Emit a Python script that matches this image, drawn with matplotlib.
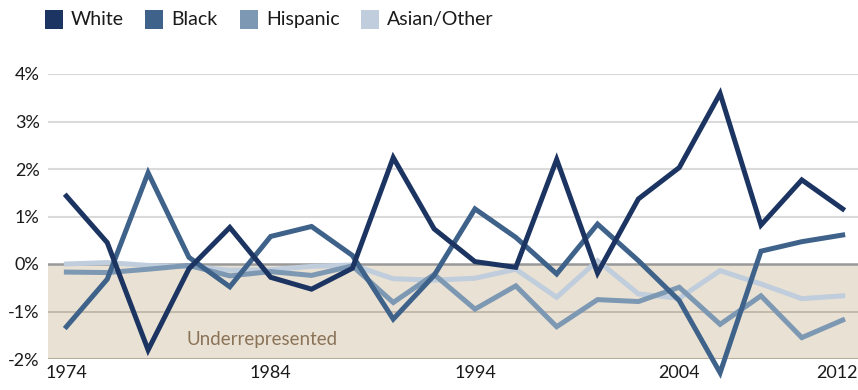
import matplotlib.pyplot as plt
from matplotlib.patches import Rectangle
from matplotlib.transforms import ScaledTranslation

years = list(range(1974, 2013, 2))

white = [1.43, 0.45, -1.81, -0.10, 0.77, -0.28, -0.53, -0.09, 2.24, 0.74,
         0.05, -0.07, 2.20, -0.19, 1.37, 2.03, 3.59, 0.82, 1.77, 1.16]
black = [-1.32, -0.32, 1.92, 0.14, -0.48, 0.58, 0.79, 0.18, -1.16, -0.24,
         1.16, 0.56, -0.21, 0.84, 0.07, -0.77, -2.29, 0.27, 0.47, 0.61]
hispanic = [-0.17, -0.18, -0.11, -0.03, -0.25, -0.16, -0.24, -0.04, -0.81, -0.22,
            -0.95, -0.46, -1.32, -0.75, -0.79, -0.49, -1.27, -0.67, -1.55, -1.18]
asian_other = [0.0, 0.03, -0.03, -0.05, -0.13, -0.12, -0.05, -0.02, -0.31, -0.34,
               -0.30, -0.11, -0.70, 0.07, -0.63, -0.72, -0.14, -0.42, -0.73, -0.67]

series_names = ["White", "Black", "Hispanic", "Asian/Other"]
colors = ["#1c3461", "#3e6289", "#7d98b3", "#bfcddc"]
yticks = [-2, -1, 0, 1, 2, 3, 4]
xticks = [1974, 1984, 1994, 2004, 2012]

plt.rcParams['font.family'] = ['Lato', 'DejaVu Sans']

fig = plt.figure(figsize=(8.58, 3.9), dpi=100)
ax = fig.add_axes([48 / 858, 31 / 390, 1 - 48 / 858, 285 / 390])

ax.set_xlim(1973.1, 2012.75)
ax.set_ylim(-2, 4)

# shaded "underrepresented" band below zero
ax.axhspan(-2, 0, color="#e9e1d3", zorder=0, lw=0)
for y in [1, 2, 3, 4]:
    ax.axhline(y, color="#dadada", lw=1.5, zorder=1)
ax.axhline(-1, color="#bdb3a5", lw=1.2, zorder=1)
ax.axhline(-2, color="#b8ad9d", lw=1.5, zorder=1)
ax.axhline(0, color="#999999", lw=1.8, zorder=1)

all_series = [white, black, hispanic, asian_other]
for z, idx in enumerate([3, 2, 1, 0]):
    ax.plot(years, all_series[idx], color=colors[idx], lw=3.6,
            solid_joinstyle="miter", clip_on=False, zorder=3 + z)

ax.text(1979.9, -1.6, "Underrepresented", color="#8b7358", fontsize=13.5,
        va="center", ha="left")

ax.set_yticks(yticks)
ax.set_yticklabels([f"{v}%" for v in yticks], fontsize=13, color="#1a1a1a")
ax.set_xticks(xticks)
ax.set_xticklabels([str(v) for v in xticks], fontsize=13, color="#1a1a1a")
ax.tick_params(length=0, pad=6)
ax.tick_params(axis="x", pad=4)
for s in ax.spines.values():
    s.set_visible(False)

# nudge the last year label left so it stays inside the figure
last = ax.get_xticklabels()[-1]
last.set_transform(last.get_transform() + ScaledTranslation(-0.06, 0, fig.dpi_scale_trans))

# legend drawn as squares with labels along the top
legend_x = [45, 145, 240, 361]
for x0, name, c in zip(legend_x, series_names, colors):
    fig.add_artist(Rectangle((x0 / 858, (390 - 29) / 390), 18 / 858, 19 / 390,
                             transform=fig.transFigure, color=c, lw=0))
    fig.text((x0 + 26) / 858, (390 - 19.5) / 390, name, fontsize=14,
             va="center", ha="left", color="#1a1a1a")

fig.savefig("out.png", dpi=100)
